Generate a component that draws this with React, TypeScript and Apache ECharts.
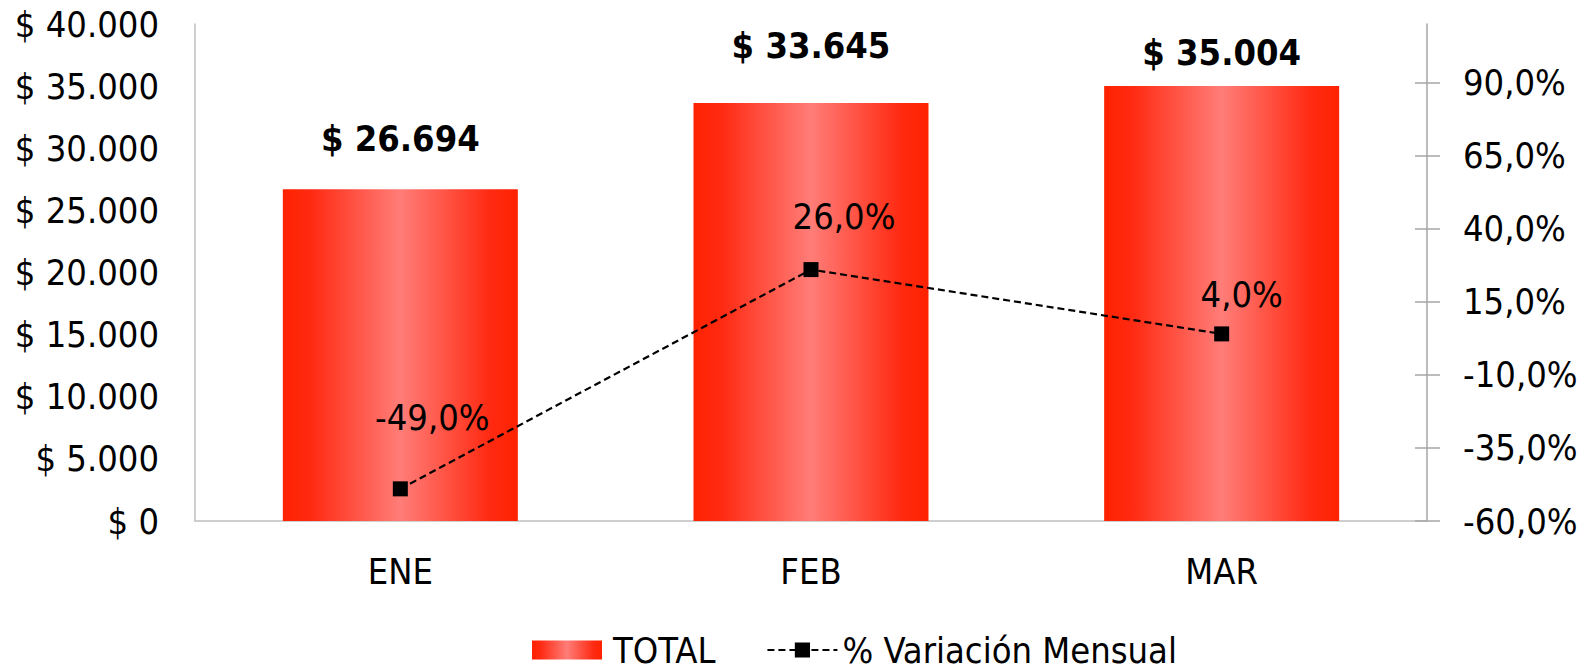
import React, { useEffect, useRef } from "react";
import * as echarts from "echarts";

const categories = ["ENE", "FEB", "MAR"];
const totals = [26694, 33645, 35004];
const variation = [-49, 26, 4];
const rightTickValues = [-60, -35, -10, 15, 40, 65, 90];

// label placement styling (not data)
const barLabelOffsetY = [-28, -34, -11];
const lineLabelOffsets = [
  [32, -46],
  [33, -28],
  [20, -14],
];

const FONT = "'DejaVu Sans Condensed', 'DejaVu Sans', sans-serif";

const fmtMoney = (v: number) =>
  "$ " + String(Math.round(v)).replace(/\B(?=(\d{3})+(?!\d))/g, ".");
const fmtPct = (v: number) => v.toFixed(1).replace(".", ",") + "%";

const barGradient = new echarts.graphic.LinearGradient(0, 0, 1, 0, [
  { offset: 0, color: "#FF2200" },
  { offset: 0.12, color: "#FF2A12" },
  { offset: 0.5, color: "#FF7D78" },
  { offset: 0.88, color: "#FF2A12" },
  { offset: 1, color: "#FF2200" },
]);

export default function App() {
  const ref = useRef<HTMLDivElement>(null);
  useEffect(() => {
    document.body.style.margin = "0";
    if (!ref.current) return;
    const chart = echarts.init(ref.current, null, { renderer: "svg" });
    const option: any = {
      animation: false,
      backgroundColor: "#ffffff",
      textStyle: { fontFamily: FONT },
      grid: { left: 195, right: 167, top: 24, bottom: 149, containLabel: false },
      legend: {
        left: 527,
        top: 627,
        itemWidth: 70,
        itemHeight: 19,
        itemGap: 51,
        textStyle: { fontFamily: FONT, fontSize: 36, color: "#000" },
        data: [
          { name: "TOTAL", icon: "rect", textStyle: { padding: [0, 0, 0, 6] } },
          { name: "% Variación Mensual", textStyle: { padding: [0, 0, 0, 0] } },
        ],
      },
      xAxis: {
        type: "category",
        data: categories,
        boundaryGap: true,
        axisLine: { show: true, lineStyle: { color: "#BFBFBF", width: 1.5 } },
        axisTick: { show: false },
        axisLabel: { fontFamily: FONT, fontSize: 36, color: "#000", margin: 32 },
      },
      yAxis: [
        {
          type: "value",
          min: 0,
          max: 40000,
          interval: 5000,
          position: "left",
          axisLine: { show: true, lineStyle: { color: "#BFBFBF", width: 1.5 } },
          axisTick: { show: false },
          splitLine: { show: false },
          axisLabel: {
            fontFamily: FONT,
            fontSize: 36,
            color: "#000",
            margin: 36,
            formatter: (v: number) => fmtMoney(v),
          },
        },
        {
          type: "value",
          min: -60,
          max: 110,
          position: "right",
          axisLine: { show: true, lineStyle: { color: "#A6A6A6", width: 1.5 } },
          axisTick: {
            show: true,
            length: 13,
            customValues: rightTickValues,
            lineStyle: { color: "#A6A6A6", width: 1.5 },
          },
          splitLine: { show: false },
          axisLabel: {
            fontFamily: FONT,
            fontSize: 36,
            color: "#000",
            margin: 36,
            customValues: rightTickValues,
            formatter: (v: number) => fmtPct(v),
          },
        },
        {
          type: "value",
          min: -60,
          max: 110,
          position: "right",
          axisLine: { show: false },
          axisTick: {
            show: true,
            inside: true,
            length: 12,
            customValues: rightTickValues,
            lineStyle: { color: "#A6A6A6", width: 1.5 },
          },
          splitLine: { show: false },
          axisLabel: { show: false },
        },
      ],
      series: [
        {
          name: "TOTAL",
          type: "bar",
          yAxisIndex: 0,
          barWidth: 235,
          itemStyle: { color: barGradient },
          data: totals.map((v, i) => ({
            value: v,
            label: { offset: [0, barLabelOffsetY[i]] },
          })),
          label: {
            show: true,
            position: "top",
            distance: 5,
            fontFamily: FONT,
            fontSize: 36,
            fontWeight: "bold",
            color: "#000",
            formatter: (p: any) => fmtMoney(p.value),
          },
          z: 2,
        },
        {
          name: "% Variación Mensual",
          type: "line",
          yAxisIndex: 1,
          symbol: "rect",
          symbolSize: 15,
          itemStyle: { color: "#000" },
          lineStyle: { color: "#000", width: 2.2, type: [7, 4] },
          data: variation.map((v, i) => ({
            value: v,
            label: { offset: lineLabelOffsets[i] },
          })),
          label: {
            show: true,
            position: "top",
            distance: 0,
            fontFamily: FONT,
            fontSize: 36,
            color: "#000",
            formatter: (p: any) => fmtPct(p.value),
          },
          z: 5,
        },
      ],
    };
    chart.setOption(option);
    return () => chart.dispose();
  }, []);
  return <div ref={ref} style={{ width: 1594, height: 670 }} />;
}
